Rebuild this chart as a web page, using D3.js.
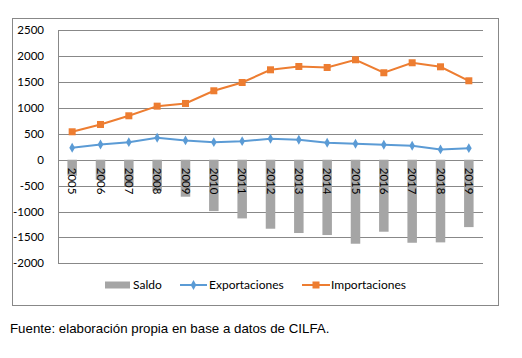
<!DOCTYPE html>
<html><head><meta charset="utf-8">
<script src="https://cdn.jsdelivr.net/npm/d3@7"></script>
<style>body{margin:0;background:#fff}</style>
</head><body>
<script>
const years = ["2005","2006","2007","2008","2009","2010","2011","2012","2013","2014","2015","2016","2017","2018","2019"];
const exportaciones = [232,295,340,425,373,340,359,405,386,328,309,290,270,199,224];
const importaciones = [540,681,849,1035,1087,1332,1492,1737,1801,1782,1931,1680,1873,1795,1525];
const saldo = [-308,-386,-509,-610,-714,-992,-1133,-1332,-1415,-1454,-1622,-1390,-1603,-1596,-1301];
const yTicks = [2500,2000,1500,1000,500,0,-500,-1000,-1500,-2000];

const W=522,H=358;
const svg=d3.select("body").append("svg").attr("width",W).attr("height",H);
const font="Lato, 'Open Sans', sans-serif";
const grid="#888888";

svg.append("rect").attr("x",12.5).attr("y",18.5).attr("width",486).attr("height",287)
  .attr("fill","none").attr("stroke",grid).attr("stroke-width",1);

const x=d3.scaleBand().domain(years).range([58,483]);
const y=d3.scaleLinear().domain([-2000,2500]).range([263.3,30.3]);

const g=svg.append("g");
yTicks.forEach(t=>{
  g.append("line").attr("x1",58).attr("x2",483).attr("y1",Math.round(y(t))+0.5).attr("y2",Math.round(y(t))+0.5)
   .attr("stroke",grid).attr("stroke-width",1);
  g.append("text").attr("x",44).attr("y",y(t)+4).attr("text-anchor","end")
   .attr("font-family",font).attr("font-size",11.5).attr("fill","#000").text(t);
});
g.append("line").attr("x1",58.5).attr("x2",58.5).attr("y1",Math.round(y(2500))+0.5).attr("y2",Math.round(y(-2000))+0.5)
  .attr("stroke",grid);

const bw=9.5;
g.selectAll("rect.bar").data(saldo).enter().append("rect")
  .attr("x",(d,i)=>x(years[i])+x.bandwidth()/2-bw/2)
  .attr("y",y(0)).attr("width",bw).attr("height",d=>y(d)-y(0)).attr("fill","#A5A5A5");

years.forEach(yr=>{
  const cx=x(yr)+x.bandwidth()/2;
  g.append("text").attr("transform",`translate(${cx-4},${y(0)+8}) rotate(90)`)
   .attr("font-family",font).attr("font-size",11.5).attr("fill","#000").text(yr);
});

const line=d3.line().x((d,i)=>x(years[i])+x.bandwidth()/2).y(d=>y(d));
g.append("path").datum(exportaciones).attr("d",line).attr("fill","none").attr("stroke","#5B9BD5").attr("stroke-width",2);
g.append("path").datum(importaciones).attr("d",line).attr("fill","none").attr("stroke","#ED7D31").attr("stroke-width",2);

exportaciones.forEach((d,i)=>{
  g.append("path").attr("d",d3.symbol().type(d3.symbolDiamond).size(28)())
   .attr("transform",`translate(${x(years[i])+x.bandwidth()/2},${y(d)})`).attr("fill","#5B9BD5");
});
importaciones.forEach((d,i)=>{
  g.append("rect").attr("x",x(years[i])+x.bandwidth()/2-3.5).attr("y",y(d)-3.5).attr("width",7).attr("height",7).attr("fill","#ED7D31");
});

const ly=285;
const lg=svg.append("g");
const lfs=12;
lg.append("rect").attr("x",105).attr("y",ly-3.5).attr("width",25).attr("height",7).attr("fill","#A5A5A5");
lg.append("text").attr("x",133).attr("y",ly+4).attr("font-family",font).attr("font-size",lfs).text("Saldo");
lg.append("line").attr("x1",180).attr("x2",207).attr("y1",ly).attr("y2",ly).attr("stroke","#5B9BD5").attr("stroke-width",2);
lg.append("path").attr("d",d3.symbol().type(d3.symbolDiamond).size(28)()).attr("transform",`translate(193.5,${ly})`).attr("fill","#5B9BD5");
lg.append("text").attr("x",209).attr("y",ly+4).attr("font-family",font).attr("font-size",lfs).text("Exportaciones");
lg.append("line").attr("x1",302).attr("x2",330).attr("y1",ly).attr("y2",ly).attr("stroke","#ED7D31").attr("stroke-width",2);
lg.append("rect").attr("x",312.5).attr("y",ly-3.5).attr("width",7).attr("height",7).attr("fill","#ED7D31");
lg.append("text").attr("x",331).attr("y",ly+4).attr("font-family",font).attr("font-size",lfs).text("Importaciones");

svg.append("text").attr("x",10).attr("y",333).attr("font-family","'Liberation Sans', Arial, sans-serif")
  .attr("font-size",13.3).attr("fill","#000").text("Fuente: elaboración propia en base a datos de CILFA.");
</script>
</body></html>
